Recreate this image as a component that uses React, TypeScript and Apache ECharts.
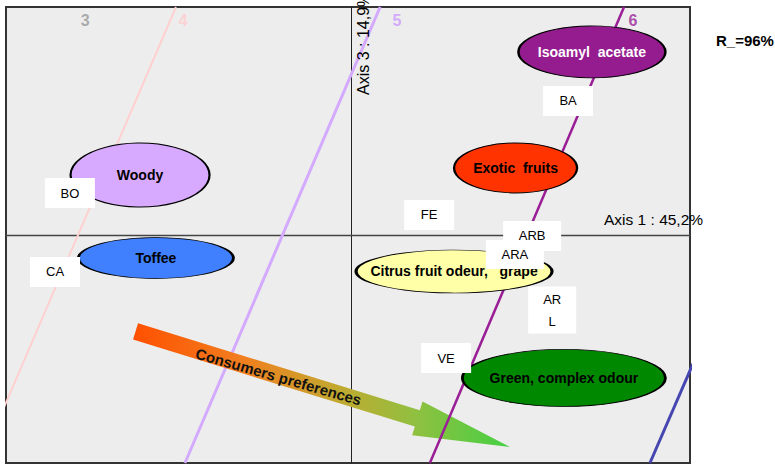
import React, { useEffect, useRef } from "react";
import * as echarts from "echarts";

// ---- data (plot coordinates: axis 1 horizontal, axis 3 vertical) ----
const descriptorNames = ["Isoamyl  acetate", "Exotic  fruits", "Woody", "Toffee", "Citrus fruit odeur,   grape", "Green, complex odour"];
const descriptorX = [0.696, 0.475, -0.612, -0.566, 0.297, 0.615];
const descriptorY = [0.803, 0.294, 0.263, -0.101, -0.16, -0.627];

const productNames = ["BA", "BO", "CA", "FE", "ARB", "ARA", "AR\nL", "VE"];
const productX = [0.627, -0.815, -0.858, 0.225, 0.523, 0.473, 0.581, 0.274];
const productY = [0.588, 0.184, -0.162, 0.088, -0.004, -0.086, -0.329, -0.54];

// iso-preference lines (x at top edge y=1 and bottom edge y=-1)
const isoLevels = ["4", "5", "6", "7"];
const isoTopX = [-0.508, 0.083, 0.789, 1.437];
const isoBottomX = [-1.075, -0.482, 0.227, 0.864];

const contourLabels = ["3", "4", "5", "6"];
const contourLabelX = [-0.771, -0.488, 0.132, 0.815];
const contourLabelY = [0.939, 0.939, 0.939, 0.939];

// consumers preference arrow: tail and tip
const arrowTail = [-0.625, -0.423];
const arrowTip = [0.459, -0.93];

// ---- styles ----
const descriptorSizes = [[147, 52], [123, 50], [139, 64], [155, 41], [196, 43], [203, 57]];
const descriptorColors = ["#951C8F", "#FF3300", "#D8AAFF", "#4080FF", "#FFFFA8", "#008800"];
const descriptorTextColors = ["#ffffff", "#000000", "#000000", "#000000", "#000000", "#000000"];
const productSizes = [[50, 30], [50, 30], [50, 30], [50, 30], [58, 30], [58, 29], [48, 47], [50, 30]];
const isoColors = ["#FFD0D0", "#D4AAFF", "#9A1E96", "#4646B0"];
const isoWidths = [2, 3, 2.5, 3];
const isoZ = [1, 1, 4, 4];
const contourLabelColors = ["#999999", "#FFCCCC", "#CC99FF", "#992299"];

const FONT = '"Liberation Sans", Arial, sans-serif';

export default function App() {
  const ref = useRef<HTMLDivElement>(null);
  useEffect(() => {
    if (!ref.current) return;
    const chart = echarts.init(ref.current, null, { renderer: "svg" });

    const isoSeries = isoLevels.map((lv, i) => ({
      type: "line",
      name: "iso" + lv,
      data: [[isoTopX[i], 1], [isoBottomX[i], -1]],
      symbol: "none",
      clip: true,
      silent: true,
      z: isoZ[i],
      lineStyle: { color: isoColors[i], width: isoWidths[i] },
    }));

    const productSeries = productNames.map((n, i) => ({
      type: "scatter",
      name: "p" + i,
      z: 10 + i,
      silent: true,
      data: [{ name: n, value: [productX[i], productY[i]] }],
      symbol: "rect",
      symbolSize: productSizes[i],
      itemStyle: { color: "#ffffff", opacity: 1 },
      label: {
        show: true,
        position: "inside",
        formatter: "{b}",
        color: "#000",
        fontSize: 13,
        fontFamily: FONT,
        lineHeight: 22,
      },
    }));

    const gradient = new echarts.graphic.LinearGradient(0, 0, 1, 0, [
      { offset: 0, color: "#FF5000" },
      { offset: 0.3, color: "#F08020" },
      { offset: 0.55, color: "#C0AA30" },
      { offset: 0.75, color: "#90C040" },
      { offset: 1, color: "#44D044" },
    ]);

    const option: any = {
      animation: false,
      backgroundColor: "#ffffff",
      grid: {
        left: 6,
        top: 7,
        width: 684,
        height: 456,
        show: true,
        backgroundColor: "#EDEDED",
        borderColor: "#333333",
        borderWidth: 2,
      },
      xAxis: {
        type: "value",
        min: -1,
        max: 0.98,
        axisLine: { show: true, onZero: true, lineStyle: { color: "#444", width: 1.3 } },
        axisTick: { show: false },
        axisLabel: { show: false },
        splitLine: { show: false },
      },
      yAxis: {
        type: "value",
        min: -1,
        max: 1,
        axisLine: { show: true, onZero: true, lineStyle: { color: "#222", width: 1 } },
        axisTick: { show: false },
        axisLabel: { show: false },
        splitLine: { show: false },
      },
      graphic: [
        {
          type: "text",
          x: 604,
          y: 219,
          style: { text: "Axis 1 : 45,2%", fill: "#000", font: `15.5px ${FONT}`, align: "left", verticalAlign: "middle" },
          z: 50,
        },
        {
          type: "text",
          x: 363.5,
          y: 95,
          rotation: Math.PI / 2,
          style: { text: "Axis 3 : 14,9%", fill: "#000", font: `16px ${FONT}`, align: "left", verticalAlign: "middle" },
          z: 50,
        },
        {
          type: "text",
          x: 716,
          y: 40,
          style: { text: "R_=96%", fill: "#000", font: `bold 15px ${FONT}`, align: "left", verticalAlign: "middle" },
          z: 50,
        },
      ],
      series: [
        ...isoSeries,
        {
          type: "custom",
          name: "arrow",
          z: 2,
          silent: true,
          clip: false,
          encode: { x: [0, 2], y: [1, 3] },
          data: [[arrowTail[0], arrowTail[1], arrowTip[0], arrowTip[1]]],
          renderItem: (params: any, api: any) => {
            const a = api.coord([api.value(0), api.value(1)]);
            const b = api.coord([api.value(2), api.value(3)]);
            const dx = b[0] - a[0];
            const dy = b[1] - a[1];
            const L = Math.hypot(dx, dy);
            const ux = dx / L;
            const uy = dy / L;
            const nx = -uy;
            const ny = ux;
            const sw = 8.5;
            const hw = 17.7;
            const hl = 97;
            const bx = b[0] - ux * hl;
            const by = b[1] - uy * hl;
            const pts = [
              [a[0] + nx * sw, a[1] + ny * sw],
              [bx + nx * sw, by + ny * sw],
              [bx + nx * hw, by + ny * hw],
              [b[0], b[1]],
              [bx - nx * hw, by - ny * hw],
              [bx - nx * sw, by - ny * sw],
              [a[0] - nx * sw, a[1] - ny * sw],
            ];
            const ang = Math.atan2(dy, dx);
            const tx = a[0] + ux * 150 + nx * 1;
            const ty = a[1] + uy * 150 + ny * 1;
            return {
              type: "group",
              children: [
                { type: "polygon", shape: { points: pts }, style: { fill: gradient } },
                {
                  type: "text",
                  x: tx,
                  y: ty,
                  rotation: -ang + 0.02,
                  style: {
                    text: "Consumers preferences",
                    fill: "#111",
                    font: `bold 15px ${FONT}`,
                    align: "center",
                    verticalAlign: "middle",
                  },
                },
              ],
            };
          },
        },
        {
          type: "scatter",
          name: "descriptors",
          z: 5,
          silent: true,
          data: descriptorNames.map((n, i) => ({
            name: n,
            value: [descriptorX[i], descriptorY[i]],
            symbolSize: descriptorSizes[i],
            itemStyle: { color: descriptorColors[i], borderColor: "#000", borderWidth: 1.5, opacity: 1 },
            label: { color: descriptorTextColors[i] },
          })),
          symbol: "circle",
          label: {
            show: true,
            position: "inside",
            formatter: "{b}",
            fontSize: 14,
            fontWeight: "bold",
            fontFamily: FONT,
          },
        },
        ...productSeries,
        {
          type: "scatter",
          name: "levels",
          z: 30,
          silent: true,
          symbolSize: 1,
          itemStyle: { color: "transparent" },
          data: contourLabels.map((n, i) => ({
            name: n,
            value: [contourLabelX[i], contourLabelY[i]],
            label: { color: contourLabelColors[i] },
          })),
          label: {
            show: true,
            position: "inside",
            formatter: "{b}",
            fontSize: 16,
            fontWeight: "bold",
            fontFamily: FONT,
          },
        },
      ],
    };
    chart.setOption(option);
    return () => chart.dispose();
  }, []);
  return (
    <div
      ref={ref}
      style={{ position: "absolute", left: 0, top: 0, width: 775, height: 465 }}
    />
  );
}
